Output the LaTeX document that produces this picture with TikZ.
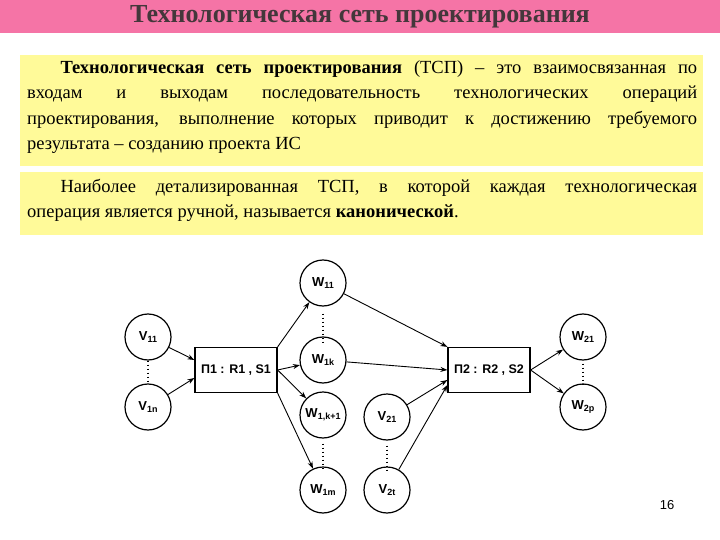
\documentclass[tikz,border=0pt]{standalone}
\usepackage{fontspec}
\setmainfont{Liberation Serif}
\setsansfont{Liberation Sans}
\usetikzlibrary{arrows.meta}
\newcommand{\sbs}[1]{\raisebox{-0.35ex}{\fontsize{9}{9}\selectfont #1}}
\begin{document}
\begin{tikzpicture}[x=1pt,y=-1pt,
  circ/.style={circle,draw,line width=1.2pt,minimum size=46pt,inner sep=0pt,font=\sffamily\bfseries\fontsize{13}{13}\selectfont},
  opbox/.style={rectangle,draw,line width=1.2pt,minimum width=82pt,minimum height=45pt,inner sep=0pt,font=\sffamily\bfseries\fontsize{12.5}{12.5}\selectfont},
  arr/.style={-{Stealth[length=7pt,width=5pt]},line width=0.9pt},
  vdots/.style={line width=1.3pt,dash pattern=on 1.5pt off 2.5pt},
  txt/.style={anchor=north west,text width=670pt,align=justify,inner sep=0pt,font=\fontsize{18.5}{25.5}\selectfont}]
\useasboundingbox (0,0) rectangle (720,540);
\fill[white] (0,0) rectangle (720,540);
\fill[magenta!40!pink] (0,0) rectangle (720,33);
\node[font=\bfseries\fontsize{26}{26}\selectfont,text=black!85!magenta] (title) at (360,17) {Технологическая сеть проектирования};
\fill[yellow!40!white] (20,55) rectangle (703,166);
\fill[yellow!40!white] (20,172) rectangle (703,235);
\node[txt] (t1) at (27,60) {\hspace*{1.8em}\textbf{Технологическая сеть проектирования} (ТСП) – это взаимосвязанная по\linebreak входам и выходам последовательность технологических операций\linebreak проектирования, выполнение которых приводит к достижению требуемого\linebreak результата – созданию проекта ИС};
\node[txt] (t2) at (27,179) {\hspace*{1.8em}Наиболее детализированная ТСП, в которой каждая технологическая\linebreak операция является ручной, называется \textbf{канонической}.};
\node[circ] (v11) at (148,337) {V\sbs{11}};
\node[circ] (v1n) at (148,407) {V\sbs{1n}};
\node[opbox] (p1) at (236,370) {П1 : R1 , S1};
\node[circ] (w11) at (323,283) {W\sbs{11}};
\node[circ] (w1k) at (323,360) {W\sbs{1k}};
\node[circ] (w1k1) at (323,415) {W\sbs{1,k+1}};
\node[circ] (w1m) at (323,490) {W\sbs{1m}};
\node[circ] (v21) at (387,417) {V\sbs{21}};
\node[circ] (v2t) at (387,490) {V\sbs{2t}};
\node[opbox] (p2) at (489,370) {П2 : R2 , S2};
\node[circ] (w21) at (583,337) {W\sbs{21}};
\node[circ] (w2p) at (583,407) {W\sbs{2p}};
\node[font=\sffamily\fontsize{13}{13}\selectfont] (pg) at (667,505) {16};
\draw[vdots] (v11.south) -- (v1n.north);
\draw[vdots] (w11.south) ++(0,7) -- ([yshift=-7pt]w1k.north);
\draw[vdots] (w1k1.south) ++(0,5) -- ([yshift=-5pt]w1m.north);
\draw[vdots] (v21.south) ++(0,5) -- ([yshift=-5pt]v2t.north);
\draw[vdots] (w21.south) ++(0,3) -- ([yshift=-3pt]w2p.north);
\draw[arr] (v11) -- (p1.west |- 0,360);
\draw[arr] (v1n) -- (p1.west |- 0,378);
\draw[arr] (p1.north east) -- (w11);
\draw[arr] (p1.east) -- (w1k);
\draw[arr] (p1.east) -- (w1k1);
\draw[arr] (p1.south east) -- (w1m);
\draw[arr] (w11) -- (p2.north west);
\draw[arr] (w1k) -- (p2.west);
\draw[arr] (v21) -- (p2.west |- 0,380);
\draw[arr] (v2t) -- (p2.south west |- 0,385);
\draw[arr] (p2.east) -- (w21);
\draw[arr] (p2.east) -- (w2p);
\end{tikzpicture}
\end{document}
